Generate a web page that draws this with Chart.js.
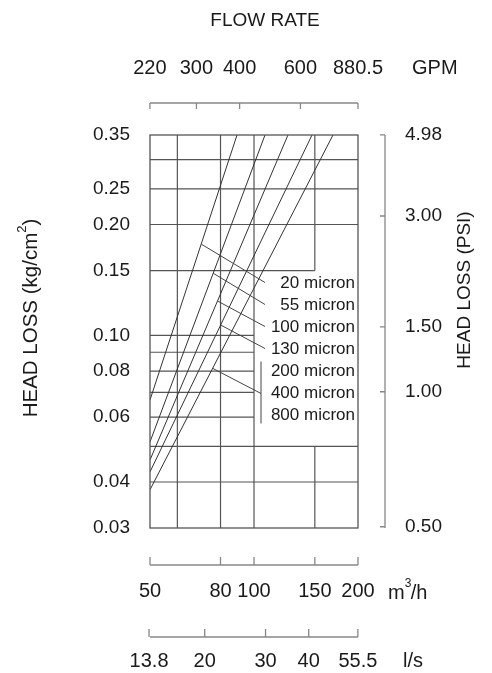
<!DOCTYPE html>
<html>
<head>
<meta charset="utf-8">
<script src="https://cdn.jsdelivr.net/npm/chart.js@4.4.1/dist/chart.umd.min.js"></script>
<style>
  html, body { margin: 0; padding: 0; background: #fff; }
</style>
</head>
<body>
<canvas id="headloss" width="492" height="673"></canvas>
<script>
// --- data ---
// the 200, 400 and 800 micron screens share one curve (bracketed in the legend)
const curveNames = ['20 micron', '55 micron', '100 micron', '130 micron', '200/400/800 micron'];
// each curve: flow (m3/h) and head loss (kg/cm2) at its two ends
const flowLow  = [50, 50, 50, 50, 50];
const lossLow  = [0.0668, 0.0514, 0.0459, 0.0426, 0.0381];
const flowHigh = [89.3, 107.6, 125.4, 147.2, 169.3];
const lossHigh = [0.35, 0.35, 0.35, 0.35, 0.35];

const screenLabels = ['20 micron', '55 micron', '100 micron', '130 micron', '200 micron', '400 micron', '800 micron'];
// leader lines leave each curve at this head loss
const leaderLoss = [0.177, 0.1475, 0.124, 0.1067, 0.0814];

// tick labels
const gpmTicks  = [220, 300, 400, 600, 880.5];
const m3hTicks  = [50, 80, 100, 150, 200];
const lsTicks   = [13.8, 20, 30, 40, 55.5];
const kgTicks   = [0.35, 0.25, 0.20, 0.15, 0.10, 0.08, 0.06, 0.04, 0.03];
const psiTicks  = [4.98, 3.00, 1.50, 1.00, 0.43];
const psiLabels = ['4.98', '3.00', '1.50', '1.00', '0.50'];

// grid: vertical [flow, lossFrom, lossTo], horizontal [loss, flowFrom, flowTo]
const vGrid = [[60, 0.03, 0.35], [80, 0.03, 0.35], [100, 0.03, 0.35], [150, 0.15, 0.35], [150, 0.03, 0.05]];
const hGrid = [[0.30, 50, 200], [0.25, 50, 200], [0.20, 50, 200], [0.15, 50, 150],
               [0.10, 50, 100], [0.09, 50, 100], [0.08, 50, 100], [0.07, 50, 100], [0.06, 50, 100],
               [0.05, 50, 200], [0.04, 50, 200]];

const GPM_PER_M3H = 1 / 0.22712;
const LS_PER_M3H = 1 / 3.6;
const PSI_PER_KG = 14.223;

const FONT = '"Liberation Sans", Arial, sans-serif';
const INK = '#1a1a1a';

function flowAt(i, loss) {
    const t = Math.log(loss / lossLow[i]) / Math.log(lossHigh[i] / lossLow[i]);
    return flowLow[i] * Math.pow(flowHigh[i] / flowLow[i], t);
}

const datasets = curveNames.map((label, i) => ({
    label,
    data: [{ x: flowLow[i], y: lossLow[i] }, { x: flowHigh[i], y: lossHigh[i] }],
    borderColor: '#333',
    borderWidth: 1,
    pointRadius: 0,
    tension: 0
}));

const gridPlugin = {
    id: 'gridPlugin',
    beforeDatasetsDraw(chart) {
        const { ctx, scales: { x, y } } = chart;
        ctx.save();
        ctx.strokeStyle = '#555';
        ctx.lineWidth = 1.2;
        ctx.beginPath();
        vGrid.forEach(([f, l0, l1]) => {
            const px = x.getPixelForValue(f);
            ctx.moveTo(px, y.getPixelForValue(l0));
            ctx.lineTo(px, y.getPixelForValue(l1));
        });
        hGrid.forEach(([l, f0, f1]) => {
            const py = y.getPixelForValue(l);
            ctx.moveTo(x.getPixelForValue(f0), py);
            ctx.lineTo(x.getPixelForValue(f1), py);
        });
        ctx.stroke();
        ctx.restore();
    }
};

function drawRotated(ctx, cx, cy, size, parts) {
    // parts: [text, isSuperscript]
    const supSize = Math.round(size * 0.62);
    ctx.save();
    ctx.translate(cx, cy);
    ctx.rotate(-Math.PI / 2);
    let total = 0;
    parts.forEach(([t, sup]) => {
        ctx.font = (sup ? supSize : size) + 'px ' + FONT;
        total += ctx.measureText(t).width;
    });
    let pos = -total / 2;
    ctx.textAlign = 'left';
    ctx.textBaseline = 'middle';
    parts.forEach(([t, sup]) => {
        ctx.font = (sup ? supSize : size) + 'px ' + FONT;
        ctx.fillText(t, pos, sup ? -size * 0.42 : 0);
        pos += ctx.measureText(t).width;
    });
    ctx.restore();
}

const axesPlugin = {
    id: 'axesPlugin',
    afterDraw(chart) {
        const { ctx, chartArea: a, scales } = chart;
        const { x, y, xGpm, xLs, yPsi } = scales;
        ctx.save();

        // frame
        ctx.strokeStyle = '#555';
        ctx.lineWidth = 1.3;
        ctx.strokeRect(a.left, a.top, a.right - a.left, a.bottom - a.top);

        // leaders
        ctx.strokeStyle = '#444';
        ctx.lineWidth = 1;
        const labelRight = a.right - 3;
        const labelTop = 283.5;
        const labelStep = 22;
        const leaderEndX = labelRight - 90;
        const groupX = leaderEndX - 4;
        ctx.beginPath();
        leaderLoss.forEach((l, k) => {
            const sx = x.getPixelForValue(flowAt(k, l));
            const sy = y.getPixelForValue(l);
            ctx.moveTo(sx, sy);
            if (k < 4) ctx.lineTo(leaderEndX, labelTop + k * labelStep - 1);
            else ctx.lineTo(groupX, labelTop + 5 * labelStep);
        });
        // bracket for the three coarse screens
        ctx.moveTo(groupX, labelTop + 4 * labelStep - 10);
        ctx.lineTo(groupX, labelTop + 6 * labelStep + 8);
        ctx.stroke();

        ctx.fillStyle = INK;
        ctx.font = '17px ' + FONT;
        ctx.textAlign = 'right';
        ctx.textBaseline = 'middle';
        screenLabels.forEach((t, k) => ctx.fillText(t, labelRight, labelTop + k * labelStep));

        // top title and GPM axis
        ctx.font = '19px ' + FONT;
        ctx.textAlign = 'center';
        ctx.fillText('FLOW RATE', 265, 21);
        ctx.strokeStyle = '#888';
        ctx.lineWidth = 1.3;
        const gY = 103;
        ctx.beginPath();
        ctx.moveTo(a.left, gY); ctx.lineTo(a.right, gY);
        gpmTicks.forEach(v => {
            const px = xGpm.getPixelForValue(v);
            ctx.moveTo(px, gY); ctx.lineTo(px, gY + 6);
        });
        ctx.stroke();
        ctx.font = '20px ' + FONT;
        gpmTicks.forEach(v => ctx.fillText(String(v), xGpm.getPixelForValue(v), 68));
        ctx.textAlign = 'left';
        ctx.fillText('GPM', 412, 68);

        // bottom axes
        function bracket(scale, ticks, lineY, labelY) {
            ctx.beginPath();
            ctx.moveTo(a.left, lineY); ctx.lineTo(a.right, lineY);
            ticks.forEach(v => {
                const px = scale.getPixelForValue(v);
                ctx.moveTo(px, lineY); ctx.lineTo(px, lineY - 8);
            });
            ctx.stroke();
            ctx.textAlign = 'center';
            ticks.forEach(v => ctx.fillText(String(v), scale.getPixelForValue(v), labelY));
        }
        bracket(x, m3hTicks, 565, 591);
        bracket(xLs, lsTicks, 637, 661);
        ctx.textAlign = 'left';
        ctx.fillText('m', 388, 593);
        const mw = ctx.measureText('m').width;
        ctx.font = '12px ' + FONT;
        ctx.fillText('3', 388 + mw, 584);
        ctx.font = '20px ' + FONT;
        ctx.fillText('/h', 388 + mw + 6, 593);
        ctx.fillText('l/s', 403, 661);

        // left kg/cm2 axis
        ctx.font = '19px ' + FONT;
        ctx.textAlign = 'right';
        kgTicks.forEach(v => ctx.fillText(v.toFixed(2), 130, y.getPixelForValue(v)));
        drawRotated(ctx, 31, 318, 20.5, [['HEAD LOSS (kg/cm', false], ['2', true], [')', false]]);

        // right PSI axis
        const rX = 385;
        ctx.beginPath();
        ctx.moveTo(rX, a.top); ctx.lineTo(rX, a.bottom);
        psiTicks.forEach(v => {
            const py = yPsi.getPixelForValue(v);
            ctx.moveTo(rX, py); ctx.lineTo(rX - 5, py);
        });
        ctx.stroke();
        ctx.font = '19px ' + FONT;
        ctx.textAlign = 'left';
        psiTicks.forEach((v, k) => ctx.fillText(psiLabels[k], 405, yPsi.getPixelForValue(v)));
        drawRotated(ctx, 465, 290, 19, [['HEAD LOSS (PSI)', false]]);

        ctx.restore();
    }
};

new Chart(document.getElementById('headloss'), {
    type: 'line',
    data: { datasets },
    options: {
        responsive: false,
        animation: false,
        layout: { padding: { left: 150, right: 134, top: 135, bottom: 145 } },
        plugins: { legend: { display: false }, tooltip: { enabled: false } },
        scales: {
            x: { type: 'logarithmic', min: 50, max: 200, display: false },
            y: { type: 'logarithmic', min: 0.03, max: 0.35, display: false },
            xGpm: { type: 'logarithmic', axis: 'x', position: 'top', min: 50 * GPM_PER_M3H, max: 200 * GPM_PER_M3H, display: false },
            xLs: { type: 'logarithmic', axis: 'x', position: 'bottom', min: 50 * LS_PER_M3H, max: 200 * LS_PER_M3H, display: false },
            yPsi: { type: 'logarithmic', axis: 'y', position: 'right', min: 0.03 * PSI_PER_KG, max: 0.35 * PSI_PER_KG, display: false }
        }
    },
    plugins: [gridPlugin, axesPlugin]
});
</script>
</body>
</html>
